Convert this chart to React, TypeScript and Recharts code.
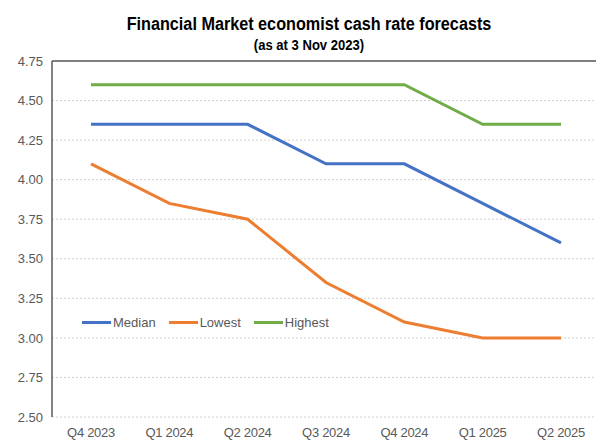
import React from 'react';
import { LineChart, Line, XAxis, YAxis, CartesianGrid, ReferenceLine } from 'recharts';

const quarters = ['Q4 2023', 'Q1 2024', 'Q2 2024', 'Q3 2024', 'Q4 2024', 'Q1 2025', 'Q2 2025'];
const median = [4.35, 4.35, 4.35, 4.1, 4.1, 3.85, 3.6];
const lowest = [4.1, 3.85, 3.75, 3.35, 3.1, 3.0, 3.0];
const highest = [4.6, 4.6, 4.6, 4.6, 4.6, 4.35, 4.35];
const yTicks = [2.5, 2.75, 3.0, 3.25, 3.5, 3.75, 4.0, 4.25, 4.5, 4.75];

const seriesNames = ['Median', 'Lowest', 'Highest'];
const seriesColors = ['#4472C4', '#ED7D31', '#70AD47'];

const data = quarters.map((q, i) => ({
  quarter: q,
  Median: median[i],
  Lowest: lowest[i],
  Highest: highest[i],
}));

const FONT = '"Liberation Sans", Arial, sans-serif';
const GREY = '#595959';

export default function App() {
  return (
    <div style={{ position: 'fixed', top: 0, left: 0, width: 596, height: 441, overflow: 'hidden', background: '#fff' }}>
      <div style={{ position: 'absolute', top: 14, left: 0, width: 618, textAlign: 'center', fontFamily: FONT, fontWeight: 'bold', fontSize: 18, lineHeight: '20px', color: '#000', transform: 'scaleX(0.9)', transformOrigin: '309px 0' }}>
        Financial Market economist cash rate forecasts
      </div>
      <div style={{ position: 'absolute', top: 37, left: 0, width: 618, textAlign: 'center', fontFamily: FONT, fontWeight: 'bold', fontSize: 14.5, lineHeight: '17px', color: '#000', transform: 'scaleX(0.9)', transformOrigin: '309px 0' }}>
        (as at 3 Nov 2023)
      </div>
      <div style={{ position: 'absolute', left: 82, top: 314, display: 'flex', alignItems: 'center', fontFamily: FONT, fontSize: 13, lineHeight: '17px', color: GREY, zIndex: 2 }}>
        {seriesNames.map((name, i) => (
          <div key={name} style={{ display: 'flex', alignItems: 'center', marginRight: 13 }}>
            <span style={{ display: 'inline-block', width: 29, height: 3, background: seriesColors[i], marginRight: 2 }} />
            <span>{name}</span>
          </div>
        ))}
      </div>
      <LineChart width={604} height={441} data={data} margin={{ top: 61, right: 4, left: 0, bottom: 0 }}>
        <CartesianGrid vertical={false} stroke="#d0d0d0" strokeDasharray="2 2" />
        <XAxis
          dataKey="quarter"
          axisLine={false}
          tickLine={false}
          height={24}
          padding={{ left: 39, right: 39 }}
          tickMargin={5}
          tick={{ fill: GREY, fontSize: 13, fontFamily: FONT, letterSpacing: -0.3 }}
        />
        <YAxis
          domain={[2.5, 4.75]}
          ticks={yTicks}
          width={52}
          tickLine={false}
          axisLine={{ stroke: GREY, strokeWidth: 1.5 }}
          tickMargin={3}
          tickFormatter={(v: number) => v.toFixed(2)}
          tick={{ fill: GREY, fontSize: 13, fontFamily: FONT }}
        />
        <ReferenceLine y={4.75} stroke={GREY} strokeWidth={1.5} />
        {seriesNames.map((name, i) => (
          <Line key={name} dataKey={name} stroke={seriesColors[i]} strokeWidth={3} dot={false} isAnimationActive={false} />
        ))}
      </LineChart>
    </div>
  );
}
